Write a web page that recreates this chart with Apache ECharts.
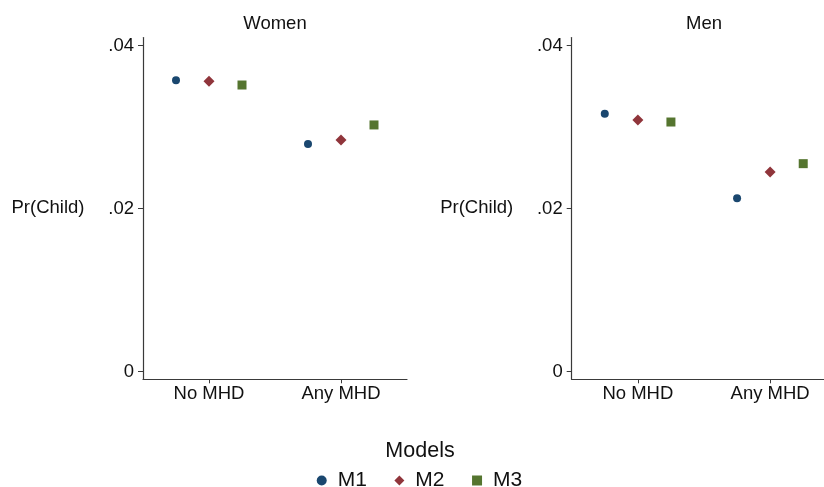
<!DOCTYPE html>
<html>
<head>
<meta charset="utf-8">
<script src="https://cdn.jsdelivr.net/npm/echarts@6/dist/echarts.min.js"></script>
<style>
html,body{margin:0;padding:0;background:#fff;}
#chart{width:824px;height:487px;}
</style>
</head>
<body>
<div id="chart"></div>
<script>
const panels = ['Women', 'Men'];
const categories = ['No MHD', 'Any MHD'];
const models = ['M1', 'M2', 'M3'];
const modelOffsets = [-0.25, 0, 0.25];
const modelColors = ['#1a476f', '#90353b', '#55752f'];
const modelSymbols = ['circle', 'diamond', 'rect'];
const modelSizes = [8, 11, 9];
// values[panel][model] = [No MHD, Any MHD]
const womenM1 = [0.03573, 0.02791];
const womenM2 = [0.03561, 0.02840];
const womenM3 = [0.03515, 0.03025];
const menM1 = [0.03163, 0.02125];
const menM2 = [0.03086, 0.02448];
const menM3 = [0.03061, 0.02550];
const yTickValues = [0, 0.02, 0.04];
const yTickLabels = ['0', '.02', '.04'];
const yAxisTitle = 'Pr(Child)';
const legendTitle = 'Models';

const values = [[womenM1, womenM2, womenM3], [menM1, menM2, menM3]];
const FONT = 'Liberation Sans, Arial, sans-serif';
const AXIS_COLOR = '#3a3a3a';

const chart = echarts.init(document.getElementById('chart'), null, {renderer: 'canvas'});

const grids = [
  {left: 143, top: 37.5, width: 264, height: 341.8, outerBoundsMode: 'none', containLabel: false},
  {left: 571.7, right: -12.3, top: 37.5, height: 341.8, outerBoundsMode: 'none', containLabel: false}
];

const xAxes = grids.map((g, i) => ({
  type: 'value', gridIndex: i, min: 0.5, max: 2.5,
  axisLine: {show: true, onZero: false, lineStyle: {color: AXIS_COLOR, width: 1.2}},
  axisTick: {show: true, customValues: [1, 2], length: 4, lineStyle: {color: AXIS_COLOR}},
  axisLabel: {customValues: [1, 2], margin: 5, color: '#111', fontSize: 18.5, fontFamily: FONT,
    formatter: v => categories[Math.round(v) - 1]},
  splitLine: {show: false}
}));

const yAxes = grids.map((g, i) => ({
  type: 'value', gridIndex: i, min: -0.00096, max: 0.04098,
  name: yAxisTitle, nameLocation: 'middle', nameRotate: 0, nameGap: 95,
  nameTextStyle: {color: '#111', fontSize: 18.5, fontFamily: FONT, align: 'center', verticalAlign: 'middle'},
  axisLine: {show: true, onZero: false, lineStyle: {color: AXIS_COLOR, width: 1.2}},
  axisTick: {show: true, customValues: yTickValues, length: 5, lineStyle: {color: AXIS_COLOR}},
  axisLabel: {customValues: yTickValues, margin: 9, color: '#111', fontSize: 18.5, fontFamily: FONT,
    formatter: v => {
      let best = 0;
      yTickValues.forEach((t, k) => { if (Math.abs(t - v) < Math.abs(yTickValues[best] - v)) best = k; });
      return yTickLabels[best];
    }},
  splitLine: {show: false}
}));

const series = [];
panels.forEach((p, pi) => {
  models.forEach((m, mi) => {
    series.push({
      type: 'scatter', name: m, xAxisIndex: pi, yAxisIndex: pi,
      symbol: modelSymbols[mi], symbolSize: modelSizes[mi],
      itemStyle: {color: modelColors[mi], opacity: 1},
      data: values[pi][mi].map((v, ci) => [ci + 1 + modelOffsets[mi], v])
    });
  });
});

const option = {
  backgroundColor: '#fff',
  animation: false,
  title: [
    {text: panels[0], left: 275, top: 14, textAlign: 'center', padding: 0,
      textStyle: {fontSize: 18.5, fontWeight: 'normal', color: '#111', fontFamily: FONT}},
    {text: panels[1], left: 704, top: 14, textAlign: 'center', padding: 0,
      textStyle: {fontSize: 18.5, fontWeight: 'normal', color: '#111', fontFamily: FONT}},
    {text: legendTitle, left: 420, top: 440, textAlign: 'center', padding: 0,
      textStyle: {fontSize: 21.5, fontWeight: 'normal', color: '#111', fontFamily: FONT}}
  ],
  legend: {
    data: models, left: 316.7, top: 470, padding: 0,
    itemWidth: 10, itemHeight: 10, itemGap: 27.5, symbolKeepAspect: true,
    textStyle: {fontSize: 21, color: '#111', fontFamily: FONT, padding: [0, 0, 0, 6]}
  },
  grid: grids,
  xAxis: xAxes,
  yAxis: yAxes,
  series: series
};
chart.setOption(option);
</script>
</body>
</html>
